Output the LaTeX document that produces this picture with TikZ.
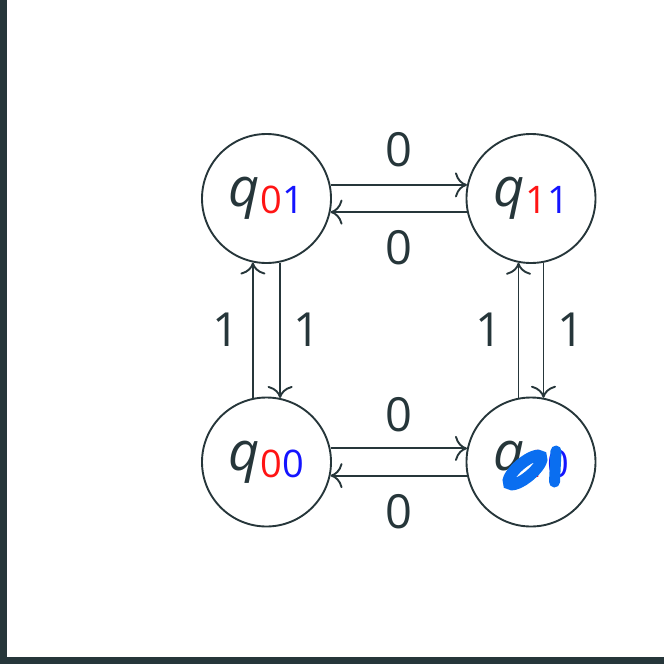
\documentclass[tikz,border=0pt]{standalone}
\usepackage{fontspec}
\setmainfont{Open Sans}
\usetikzlibrary{arrows.meta}
\definecolor{ink}{RGB}{38,54,58}
\definecolor{sred}{RGB}{255,20,20}
\definecolor{sblue}{RGB}{20,20,255}
\definecolor{scrib}{RGB}{10,110,240}
\newcommand{\stlabel}[2]{{\fontsize{54}{54}\selectfont\itshape q}\kern1pt\raisebox{-7pt}{\fontsize{38}{38}\selectfont\color{sred}#1\color{sblue}#2}}
\begin{document}
\begin{tikzpicture}[x=1pt,y=-1pt,
  state/.style={circle,draw=ink,line width=1.9pt,minimum size=129pt,inner sep=0pt,text=ink},
  edge/.style={draw=ink,line width=1.9pt,-{Computer Modern Rightarrow[length=12pt,width=25pt]}},
  lbl/.style={text=ink,font=\fontsize{47}{47}\selectfont,inner sep=0pt}]
\useasboundingbox (0,0) rectangle (664,665);
\fill[ink] (0,0) rectangle (6.5,657);
\fill[ink] (0,657) rectangle (664,664);
\node[state] (q01) at (266.5,198.5) {\stlabel{0}{1}};
\node[state] (q11) at (531,198.5) {\stlabel{1}{1}};
\node[state] (q00) at (266.5,462) {\stlabel{0}{0}};
\node[state] (q10) at (531,462) {\stlabel{1}{0}};
\draw[edge] (q01.12) -- (q11.168);
\draw[edge] (q11.192) -- (q01.348);
\draw[edge] (q00.12) -- (q10.168);
\draw[edge] (q10.192) -- (q00.348);
\draw[edge] (q01.282) -- (q00.78);
\draw[edge] (q00.102) -- (q01.258);
\draw[edge] (q11.281) -- (q10.79);
\draw[edge] (q10.101) -- (q11.259);
\node[lbl] (l1) at (399,150) {0};
\node[lbl] (l2) at (399,248) {0};
\node[lbl] (l3) at (399,415) {0};
\node[lbl] (l4) at (399,512) {0};
\node[lbl] (l5) at (226,330) {1};
\node[lbl] (l6) at (307,330) {1};
\node[lbl] (l7) at (489,330) {1};
\node[lbl] (l8) at (571,330) {1};
% handwritten scribble over q10
\draw[scrib,line width=11.5pt,rotate around={40:(525,470)}] (525,470) ellipse [x radius=21, y radius=7.2];
\draw[scrib,line width=11pt,line cap=round] (556,451) .. controls (555.5,466) .. (554.5,482);
\end{tikzpicture}
\end{document}
